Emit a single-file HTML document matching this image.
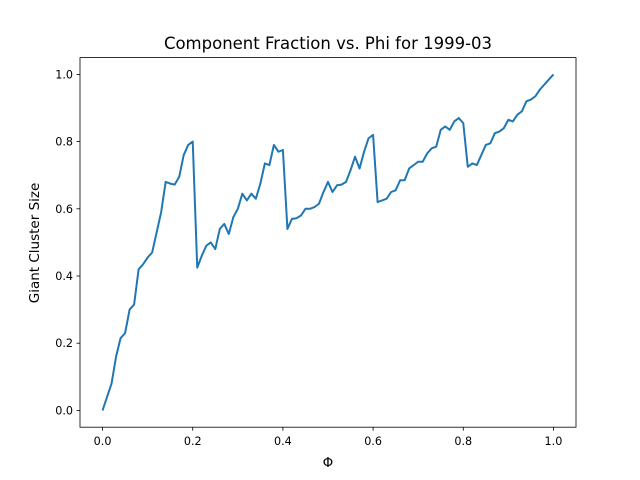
<!DOCTYPE html>
<html><head><meta charset="utf-8"><style>
body{margin:0;background:#fff;}
svg{display:block;font-family:"DejaVu Sans","Liberation Sans",sans-serif;}
</style></head><body>
<svg id="chart" width="640" height="480">
<rect width="640" height="480" fill="#fff"/>
<text x="328" y="49" text-anchor="middle" font-size="16.5">Component Fraction vs. Phi for 1999-03</text>
<text x="328" y="467" text-anchor="middle" font-size="13.5">Φ</text>
<text transform="translate(39,243) rotate(-90)" text-anchor="middle" font-size="13.5">Giant Cluster Size</text>
<g id="ticks"></g>
<polyline id="line" fill="none" stroke="#1f77b4" stroke-width="2" stroke-linejoin="round"/>
<rect x="80" y="57.6" width="496" height="369.6" fill="none" stroke="#000" stroke-width="0.8"/>
</svg>
<script>
const xTicks=[0,0.2,0.4,0.6,0.8,1.0];
const xTickLabels=["0.0","0.2","0.4","0.6","0.8","1.0"];
const yTicks=[0,0.2,0.4,0.6,0.8,1.0];
const yTickLabels=["0.0","0.2","0.4","0.6","0.8","1.0"];
const phiStep=0.01;
const sizes=[0.00,0.04,0.08,0.16,0.215,0.23,0.30,0.315,0.42,0.435,0.455,0.47,0.53,0.59,0.68,0.675,0.672,0.695,0.76,0.79,0.80,
0.425,0.46,0.49,0.50,0.48,0.54,0.555,0.525,0.575,0.60,0.645,0.625,0.645,0.63,0.675,0.735,0.73,0.79,0.77,0.775,
0.54,0.57,0.572,0.58,0.60,0.60,0.605,0.615,0.65,0.68,0.65,0.67,0.672,0.68,0.715,0.755,0.72,0.77,0.81,0.82,
0.62,0.625,0.63,0.65,0.655,0.685,0.685,0.72,0.73,0.74,0.74,0.765,0.78,0.785,0.835,0.845,0.835,0.86,0.87,0.855,
0.725,0.735,0.73,0.76,0.79,0.795,0.825,0.83,0.84,0.865,0.86,0.88,0.89,0.92,0.925,0.935,0.955,0.97,0.985,1.00];
const L=80,R=576,T=57.6,B=427.2;
const xs=v=>L+(v+0.05)/1.1*(R-L);
const ys=v=>B-(v+0.05)/1.1*(B-T);
const NS="http://www.w3.org/2000/svg";
const g=document.getElementById('ticks');
function mk(tag,attrs){const e=document.createElementNS(NS,tag);for(const k in attrs)e.setAttribute(k,attrs[k]);return e;}
xTicks.forEach((t,i)=>{
 const l=mk('line',{x1:xs(t),x2:xs(t),y1:B,y2:B+3.5,stroke:'#000','stroke-width':0.8});
 
 
 g.appendChild(l);
 const tx=mk('text',{x:xs(t),y:B+18,'text-anchor':'middle','font-size':11.2});
 
 
 tx.textContent=xTickLabels[i];g.appendChild(tx);
});
yTicks.forEach((t,i)=>{
 const l=mk('line',{x1:L-3.5,x2:L,y1:ys(t),y2:ys(t),stroke:'#000','stroke-width':0.8});
 
 
 g.appendChild(l);
 const tx=mk('text',{x:L-7,y:ys(t)+4,'text-anchor':'end','font-size':11.2});
 
 
 tx.textContent=yTickLabels[i];g.appendChild(tx);
});
document.getElementById('line').setAttribute('points',sizes.map((v,i)=>xs(i*phiStep).toFixed(2)+','+ys(v).toFixed(2)).join(' '));
</script>
</body></html>
